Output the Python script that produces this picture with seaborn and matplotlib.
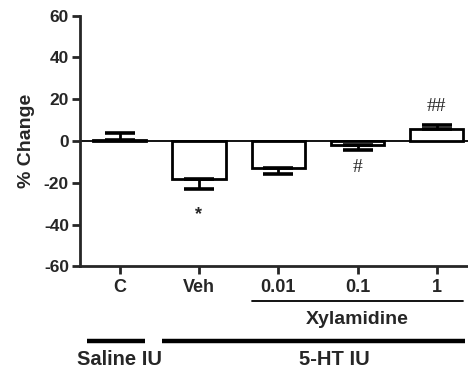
import matplotlib
matplotlib.use("Agg")
import matplotlib.pyplot as plt
import seaborn as sns
import pandas as pd

categories = ["C", "Veh", "0.01", "0.1", "1"]
means = [0.3, -18.2, -12.7, -1.9, 5.6]
errors = [3.6, 4.8, 3.2, 2.5, 1.9]
annotations = ["", "*", "", "#", "##"]
annot_y = [0, -35, 0, -12.5, 16.5]
yticks = [-60, -40, -20, 0, 20, 40, 60]

sns.set_style("ticks")
plt.rcParams["font.family"] = ["Liberation Sans", "DejaVu Sans"]
plt.rcParams["font.weight"] = "bold"

df = pd.DataFrame({"cat": categories, "val": means})

fig = plt.figure(figsize=(4.68, 3.72), dpi=100)
ax = fig.add_axes([0.171, 0.284, 0.847, 0.674])

sns.barplot(data=df, x="cat", y="val", order=categories, color="white",
            edgecolor="black", linewidth=2.0, width=0.67, errorbar=None,
            saturation=1, ax=ax, zorder=3)

# one-sided error bars (away from zero)
for i, (m, e) in enumerate(zip(means, errors)):
    if m >= 0:
        yerr = [[0], [e]]
    else:
        yerr = [[e], [0]]
    ax.errorbar(i, m, yerr=yerr, fmt="none", ecolor="black", elinewidth=2.0,
                capsize=10.5, capthick=2.6, zorder=4)

ax.axhline(0, color="black", lw=1.3, zorder=2)

for i, (t, yy) in enumerate(zip(annotations, annot_y)):
    if t:
        if t == "*":
            ax.text(i, yy, t, ha="center", va="center", fontsize=13,
                    fontweight="bold", family=["Liberation Sans"])
        else:
            ax.text(i, yy, t, ha="center", va="center", fontsize=14,
                    fontweight="normal", family=["Liberation Serif"])

ax.set_xlim(-0.5, 4.5)
ax.set_ylim(-60, 60)
ax.set_yticks(yticks)
ax.set_yticklabels([str(v) for v in yticks], fontsize=12.5, fontweight="bold")
ax.set_xticks(range(len(categories)))
ax.set_xticklabels(categories, fontsize=13, fontweight="bold")
ax.set_xlabel("")
ax.set_ylabel("% Change", fontsize=14, fontweight="bold", labelpad=6)

for s in ["top", "right"]:
    ax.spines[s].set_visible(False)
for s in ["left", "bottom"]:
    ax.spines[s].set_linewidth(2.0)
ax.tick_params(axis="y", length=6, width=2.0, pad=2)
ax.tick_params(axis="x", length=6, width=2.0, pad=3)

tr = ax.get_xaxis_transform()
# Xylamidine bracket
ax.plot([1.67, 4.33], [-0.138, -0.138], color="black", lw=1.3,
        transform=tr, clip_on=False)
ax.text(3.0, -0.21, "Xylamidine", transform=tr, ha="center", va="center",
        fontsize=14, fontweight="bold")
# group lines
ax.plot([-0.41, 0.32], [-0.298, -0.298], color="black", lw=3.2,
        transform=tr, clip_on=False, solid_capstyle="butt")
ax.plot([0.54, 4.35], [-0.298, -0.298], color="black", lw=3.2,
        transform=tr, clip_on=False, solid_capstyle="butt")
ax.text(0.0, -0.37, "Saline IU", transform=tr, ha="center", va="center",
        fontsize=14.5, fontweight="bold")
ax.text(2.71, -0.37, "5-HT IU", transform=tr, ha="center", va="center",
        fontsize=14.5, fontweight="bold")

fig.savefig("out.png", dpi=100)
